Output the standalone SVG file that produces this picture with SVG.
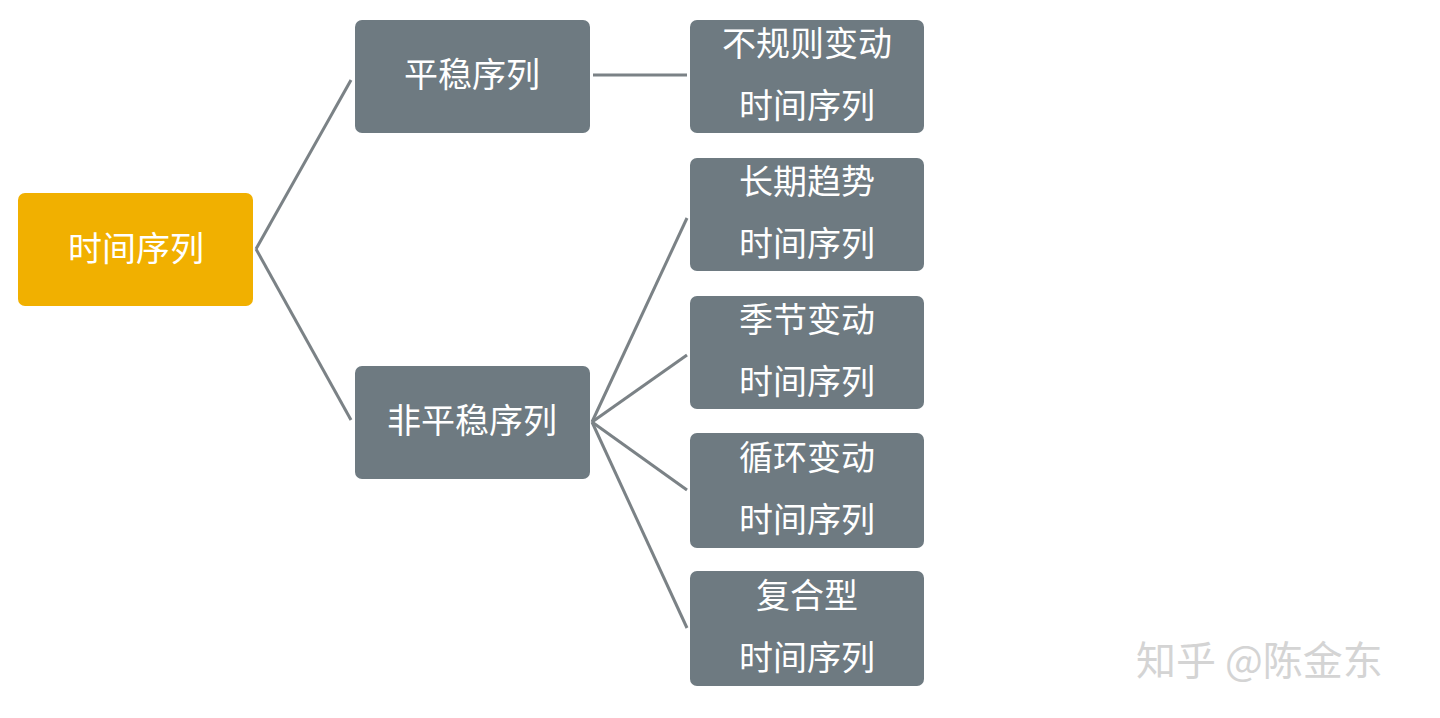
<svg xmlns="http://www.w3.org/2000/svg" width="1440" height="718" viewBox="0 0 1440 718">
<style>
.n{fill:#6e7a81}
.r{fill:#f1b000}
text{font-family:"Noto Sans CJK SC","Noto Sans",sans-serif;fill:#fff;font-size:34px;text-anchor:middle}
.c line{stroke:#7b8286;stroke-width:3}
.w{fill:#d4d4d4;font-size:40px;text-anchor:start}
</style>
<rect width="1440" height="718" fill="#fff"/>
<g class="c">
<line x1="256" y1="249" x2="351" y2="80"/>
<line x1="256" y1="249" x2="351" y2="420"/>
<line x1="593" y1="75" x2="687" y2="75"/>
<line x1="592" y1="422" x2="687" y2="218"/>
<line x1="592" y1="422" x2="687" y2="355"/>
<line x1="592" y1="422" x2="687" y2="490"/>
<line x1="592" y1="422" x2="687" y2="628"/>
</g>
<g id="root"><rect class="r" x="18" y="193" width="235" height="113" rx="7"/><text x="136" y="261">时间序列</text></g>
<g id="stable"><rect class="n" x="355" y="20" width="235" height="113" rx="7"/><text x="472" y="87">平稳序列</text></g>
<g id="nonstable"><rect class="n" x="355" y="366" width="235" height="113" rx="7"/><text x="472" y="433">非平稳序列</text></g>
<g id="n1"><rect class="n" x="690" y="20" width="234" height="113" rx="7"/><text x="807" y="56">不规则变动</text><text x="807" y="118">时间序列</text></g>
<g id="n2"><rect class="n" x="690" y="158" width="234" height="113" rx="7"/><text x="807" y="194">长期趋势</text><text x="807" y="256">时间序列</text></g>
<g id="n3"><rect class="n" x="690" y="296" width="234" height="113" rx="7"/><text x="807" y="332">季节变动</text><text x="807" y="394">时间序列</text></g>
<g id="n4"><rect class="n" x="690" y="433" width="234" height="115" rx="7"/><text x="807" y="470">循环变动</text><text x="807" y="532">时间序列</text></g>
<g id="n5"><rect class="n" x="690" y="571" width="234" height="115" rx="7"/><text x="807" y="608">复合型</text><text x="807" y="670">时间序列</text></g>
<text class="w" x="1136" y="675">知乎 @陈金东</text>
</svg>
